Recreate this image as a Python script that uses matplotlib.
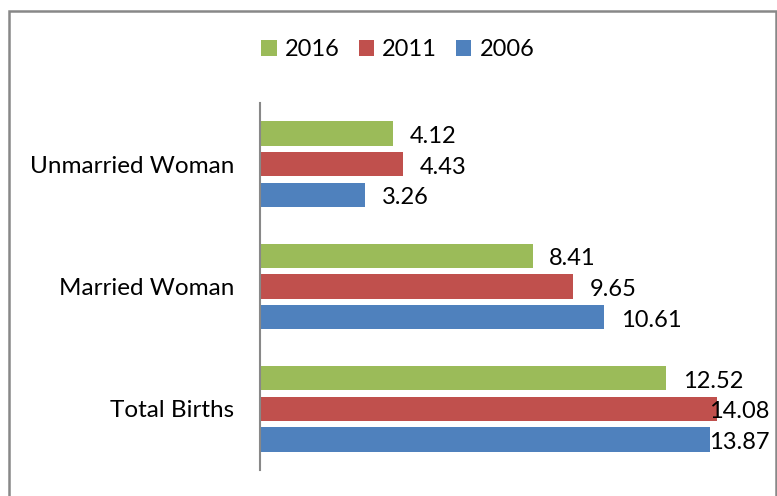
import matplotlib.pyplot as plt
import numpy as np
from matplotlib.patches import Rectangle

plt.rcParams['font.family'] = ['Lato', 'DejaVu Sans']

categories = ['Total Births', 'Married Woman', 'Unmarried Woman']
years = ['2016', '2011', '2006']
v2016 = [12.52, 8.41, 4.12]
v2011 = [14.08, 9.65, 4.43]
v2006 = [13.87, 10.61, 3.26]
colors = ['#9BBB59', '#C0504D', '#4F81BD']

fig = plt.figure(figsize=(7.77, 4.96), dpi=100)
W, H = 777, 496
ax = fig.add_axes([259.5 / W, 1 - 470 / H, 520 / W, 367 / H])

y = np.arange(len(categories))
offsets = [0.25, 0.0, -0.25]
bars = []
for vals, off, c, lab in zip([v2016, v2011, v2006], offsets, colors, years):
    b = ax.barh(y + off, vals, height=0.2, color=c, label=lab)
    bars.append(b)
    for yi, v in zip(y, vals):
        ax.annotate(f'{v:.2f}', (min(v + 0.5, 13.83), yi + off),
                    xytext=(0, -3), textcoords='offset pixels',
                    ha='left', va='center', fontsize=17, color='black')

ax.set_xlim(0, 16)
ax.set_ylim(-0.5, 2.5)
ax.set_yticks(y)
ax.set_yticklabels(categories, fontsize=17.5)
ax.set_xticks([])
ax.tick_params(axis='y', length=0, pad=18)
for s in ['top', 'right', 'bottom']:
    ax.spines[s].set_visible(False)
ax.spines['left'].set_color('#888888')
ax.spines['left'].set_linewidth(1.5)

fig.legend(handles=bars, labels=years, loc='center', ncol=3,
           bbox_to_anchor=(398 / W, 1 - 50 / H), frameon=False,
           fontsize=17, handlelength=0.65, handleheight=0.65,
           handletextpad=0.35, columnspacing=0.8)

fig.patches.append(Rectangle((8.5 / W, -0.1), (776 - 8.5) / W, 1.1 - 10.5 / H,
                             transform=fig.transFigure, fill=False,
                             edgecolor='#888888', linewidth=1.8, clip_on=False))

fig.savefig('out.png', dpi=100)
